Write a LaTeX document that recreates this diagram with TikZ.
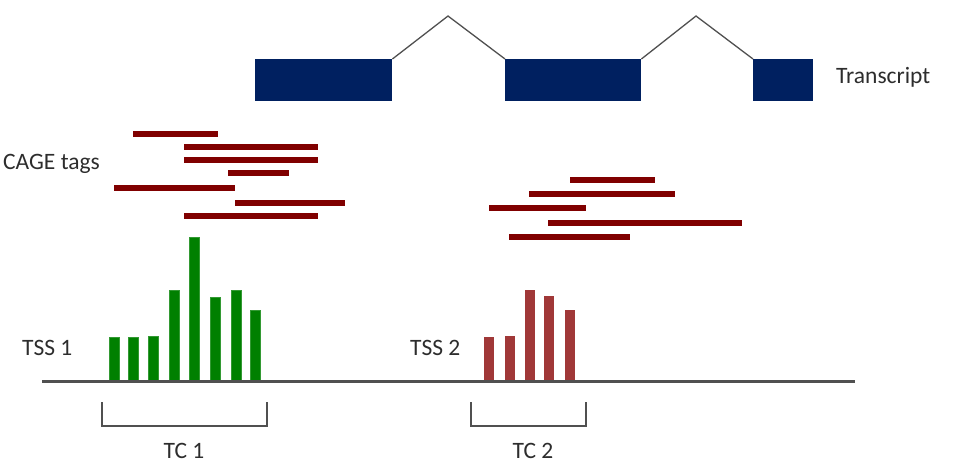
\documentclass[tikz,border=0pt]{standalone}
\usepackage{fontspec}
\setmainfont{Carlito}
\definecolor{exonblue}{RGB}{0,32,96}
\definecolor{tagred}{RGB}{128,0,0}
\definecolor{tssgreen}{RGB}{0,128,0}
\definecolor{tssred}{RGB}{160,56,56}
\definecolor{linegray}{RGB}{80,80,80}
\definecolor{txtgray}{RGB}{45,45,45}
\begin{document}
\begin{tikzpicture}[x=1pt,y=-1pt,
  exon/.style={fill=exonblue,draw=none,inner sep=0pt,anchor=north west},
  intron/.style={draw=linegray,line width=1.3pt},
  tag/.style={draw=tagred,line width=5.5pt},
  gbar/.style={fill=tssgreen,draw=tssgreen!80!white,line width=0.6pt},
  rbar/.style={fill=tssred,draw=none},
  bracket/.style={draw=linegray,line width=1.3pt},
  lbl/.style={font=\fontsize{23.5}{28}\selectfont,text=txtgray,inner sep=0pt}]
\useasboundingbox (0,0) rectangle (955,472);
% transcript
\node[exon,minimum width=137pt,minimum height=42pt] (e1) at (255,59) {};
\node[exon,minimum width=136pt,minimum height=42pt] (e2) at (505,59) {};
\node[exon,minimum width=60pt,minimum height=42pt] (e3) at (753,59) {};
\coordinate (p1) at (448,16);
\coordinate (p2) at (696,16);
\draw[intron] (e1.north east) -- (p1) -- (e2.north west);
\draw[intron] (e2.north east) -- (p2) -- (e3.north west);
\node[lbl,anchor=west] (tr) at (836,77) {Transcript};
% CAGE tags
\node[lbl,anchor=west] (cage) at (3,164) {CAGE tags};
\draw[tag] (133,134) -- (218,134);
\draw[tag] (184,147) -- (318,147);
\draw[tag] (184,160) -- (318,160);
\draw[tag] (228,173) -- (289,173);
\draw[tag] (114,188) -- (235,188);
\draw[tag] (235,203) -- (345,203);
\draw[tag] (184,216) -- (318,216);
\draw[tag] (570,180) -- (655,180);
\draw[tag] (529,194) -- (675,194);
\draw[tag] (489,208) -- (586,208);
\draw[tag] (548,223) -- (742,223);
\draw[tag] (509,237) -- (630,237);
% TSS 1 bars
\fill[gbar] (109,337) rectangle (119,382);
\fill[gbar] (128,337) rectangle (138,382);
\fill[gbar] (148,336) rectangle (158,382);
\fill[gbar] (169,290) rectangle (179,382);
\fill[gbar] (189,237) rectangle (199,382);
\fill[gbar] (210,297) rectangle (220,382);
\fill[gbar] (231,290) rectangle (241,382);
\fill[gbar] (250,310) rectangle (260,382);
% TSS 2 bars
\fill[rbar] (484,337) rectangle (494,382);
\fill[rbar] (505,336) rectangle (515,382);
\fill[rbar] (525,290) rectangle (535,382);
\fill[rbar] (544,296) rectangle (554,382);
\fill[rbar] (565,310) rectangle (575,382);
% baseline
\coordinate (b0) at (42,381.5);
\coordinate (b1) at (855,381.5);
\draw[draw=linegray,line width=3pt] (b0) -- (b1);
\node[lbl,anchor=west] (tss1) at (22,348) {TSS 1};
\node[lbl,anchor=west] (tss2) at (410,348) {TSS 2};
% brackets
\coordinate (c1a) at (102,402);
\coordinate (c1b) at (267,402);
\coordinate (c2a) at (471,402);
\coordinate (c2b) at (586,402);
\draw[bracket] (c1a) -- ++(0,24) -| (c1b);
\draw[bracket] (c2a) -- ++(0,24) -| (c2b);
\node[lbl] (tc1) at (184,451) {TC 1};
\node[lbl] (tc2) at (533,451) {TC 2};
\end{tikzpicture}
\end{document}
